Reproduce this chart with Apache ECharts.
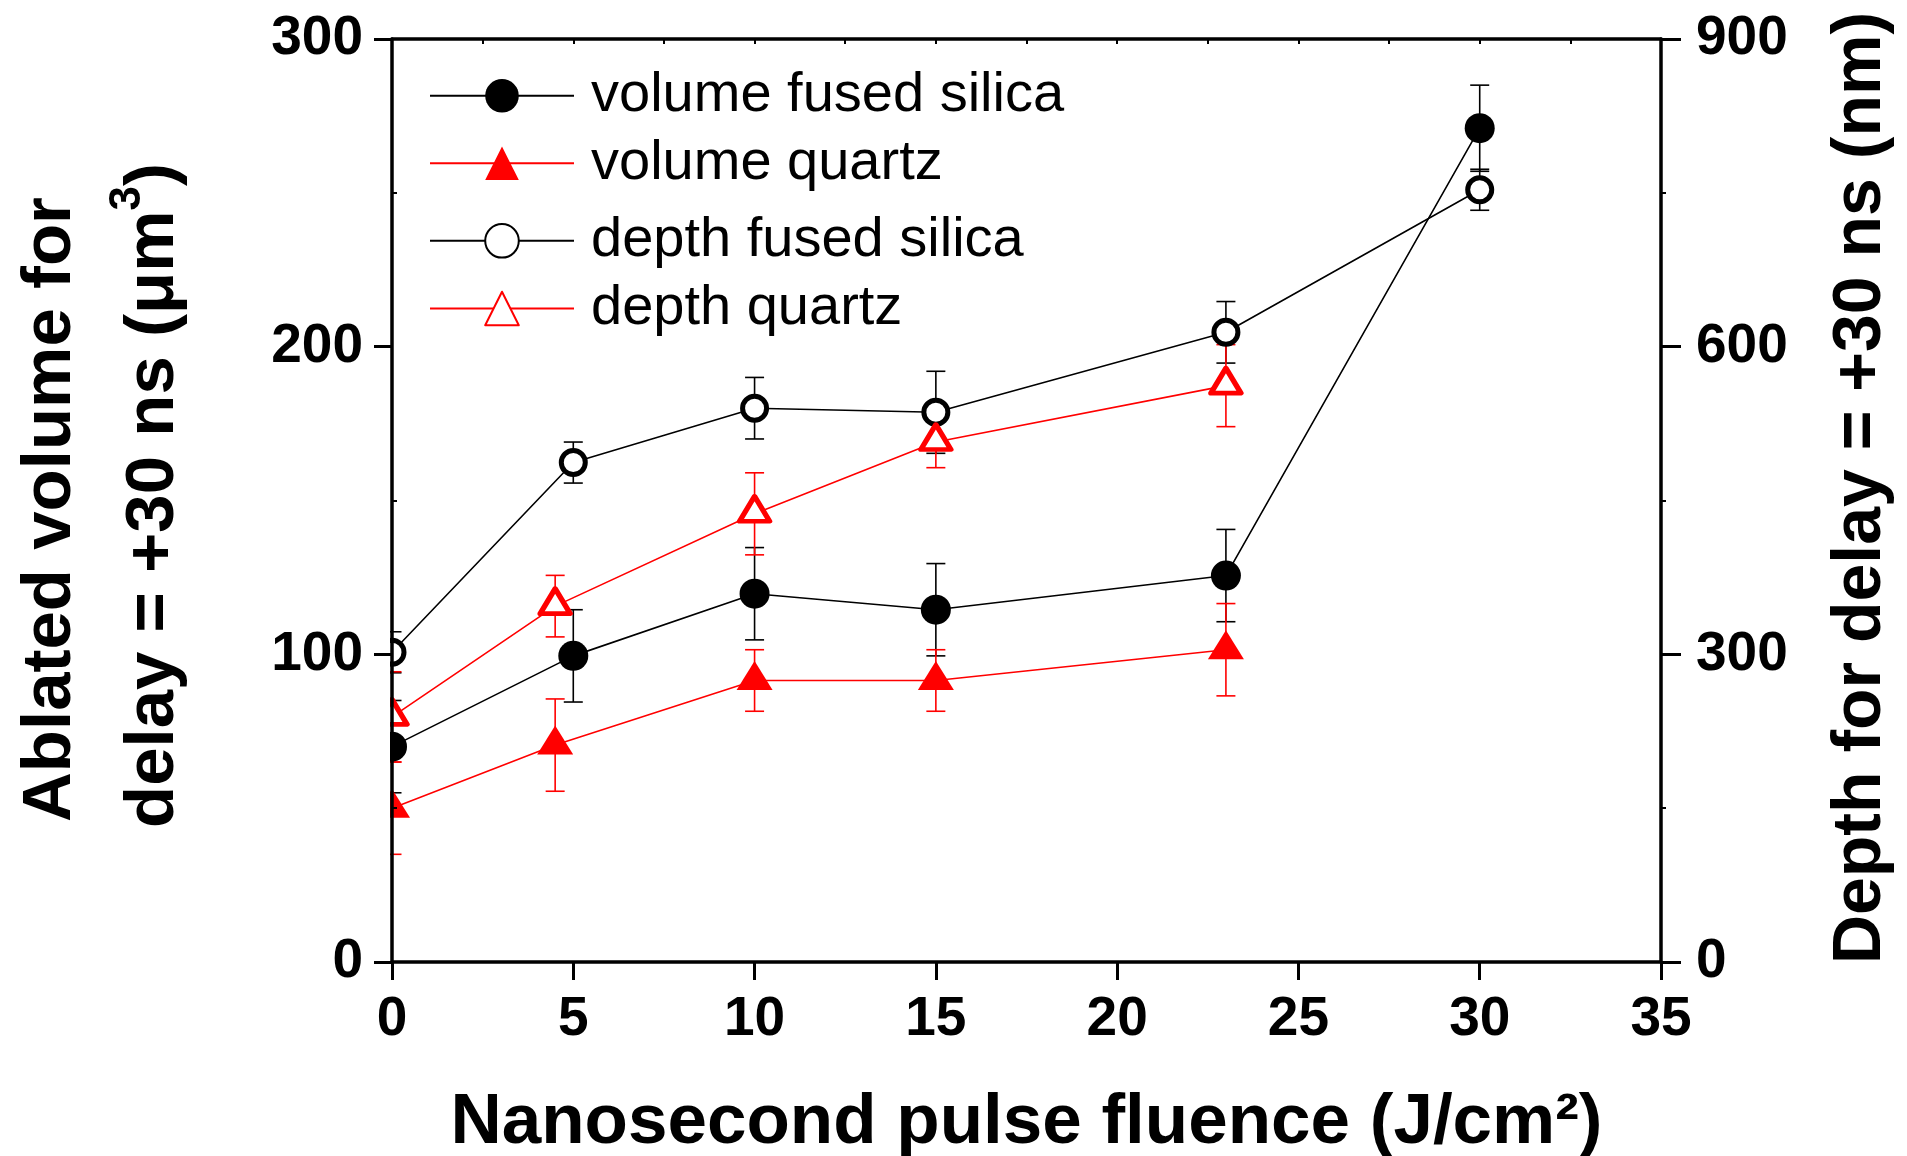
<!DOCTYPE html>
<html>
<head>
<meta charset="utf-8">
<script src="https://cdn.jsdelivr.net/npm/echarts@6/dist/echarts.min.js"></script>
<style>
html,body{margin:0;padding:0;background:#fff;}
#chart{width:1907px;height:1156px;}
</style>
</head>
<body>
<div id="chart"></div>
<script>
// ---- data ----
const xSilica = [0, 5, 10, 15, 23, 30];
const xQuartz = [0, 4.5, 10, 15, 23];
const volSilica = [70, 99.5, 119.7, 114.5, 125.6, 271];
const volSilicaErr = [15, 15, 15, 15, 15, 14];
const volQuartz = [50, 70.5, 91.5, 91.5, 101.5];
const volQuartzErr = [15, 15, 10, 10, 15];
const depthSilica = [302, 487, 540, 536, 614, 753];
const depthSilicaErr = [20, 20, 30, 40, 30, 20];
const depthQuartz = [239, 347, 437, 507, 562];
const depthQuartzErr = [44, 30, 40, 25, 40];

const seriesNames = ['volume fused silica', 'volume quartz', 'depth fused silica', 'depth quartz'];
const xRange = [0, 35], xStep = 5;
const volRange = [0, 300], volStep = 100;
const depthRange = [0, 900], depthStep = 300;
const xTitle = 'Nanosecond pulse fluence (J/cm²)';
const leftTitle1 = 'Ablated volume for';
const leftTitle2 = 'delay = +30 ns (μm';
const rightTitle = 'Depth for delay = +30 ns (nm)';

const FONT = '"Liberation Sans", Arial, sans-serif';
const RED = '#ff0000', BLACK = '#000000';

function pts(xs, ys) { return xs.map((x, i) => [x, ys[i]]); }
function errs(xs, ys, es) { return xs.map((x, i) => [x, ys[i] - es[i], ys[i] + es[i]]); }

function errSeries(name, xs, ys, es, color, yIdx) {
  return {
    type: 'custom', name: name + ' err', yAxisIndex: yIdx, xAxisIndex: 0, z: 2,
    silent: true, clip: false,
    data: errs(xs, ys, es),
    encode: { x: 0, y: [1, 2] },
    renderItem: function (params, api) {
      const x = api.value(0), lo = api.value(1), hi = api.value(2);
      const a = api.coord([x, hi]), b = api.coord([x, lo]);
      const hw = 9.5;
      const st = { stroke: color, lineWidth: 1.6 };
      return { type: 'group', children: [
        { type: 'line', shape: { x1: a[0], y1: a[1], x2: b[0], y2: b[1] }, style: st },
        { type: 'line', shape: { x1: a[0] - hw, y1: a[1], x2: a[0] + hw, y2: a[1] }, style: st },
        { type: 'line', shape: { x1: b[0] - hw, y1: b[1], x2: b[0] + hw, y2: b[1] }, style: st }
      ]};
    }
  };
}

const chart = echarts.init(document.getElementById('chart'));

const legendTops = [67.8, 135.2, 212.8, 280.5];
const legends = seriesNames.map((n, i) => ({
  data: [n], left: 429, top: legendTops[i], orient: 'vertical', padding: 0,
  itemWidth: 144, itemHeight: 42, selectedMode: false,
  textStyle: { fontSize: 56, fontFamily: FONT, color: '#000', lineHeight: 42, padding: [0, 0, 0, 12] }
}));

const axisLabel = { fontSize: 55, fontWeight: 'bold', fontFamily: FONT, color: '#000' };

const option = {
  animation: false,
  backgroundColor: '#fff',
  grid: { left: 392, right: 246, top: 39, bottom: 194, containLabel: false, outerBoundsMode: 'none' },
  legend: legends,
  xAxis: [
    { type: 'value', position: 'bottom', min: xRange[0], max: xRange[1], interval: xStep, z: 10,
      axisLine: { onZero: false, lineStyle: { color: BLACK, width: 3.5 } },
      axisTick: { inside: false, length: 18, lineStyle: { color: BLACK, width: 3 } },
      axisLabel: Object.assign({ margin: 30 }, axisLabel),
      splitLine: { show: false },
      name: xTitle, nameLocation: 'middle', nameGap: 126,
      nameTextStyle: { fontSize: 71, fontWeight: 'bold', fontFamily: FONT, color: '#000' } },
    { type: 'value', position: 'top', min: xRange[0], max: xRange[1], interval: xStep / 2, z: 10,
      axisLine: { onZero: false, lineStyle: { color: BLACK, width: 3.5 } },
      axisTick: { inside: true, length: 5, lineStyle: { color: BLACK, width: 2 } },
      axisLabel: { show: false }, splitLine: { show: false } }
  ],
  yAxis: [
    { type: 'value', position: 'left', min: volRange[0], max: volRange[1], interval: volStep, z: 10,
      axisLine: { show: true, onZero: false, lineStyle: { color: BLACK, width: 3.5 } },
      axisTick: { show: true, inside: false, length: 18, lineStyle: { color: BLACK, width: 3 } },
      axisLabel: Object.assign({ margin: 29 }, axisLabel),
      splitLine: { show: false } },
    { type: 'value', position: 'right', min: depthRange[0], max: depthRange[1], interval: depthStep, z: 10,
      axisLine: { show: true, onZero: false, lineStyle: { color: BLACK, width: 3.5 } },
      axisTick: { show: true, inside: false, length: 20, lineStyle: { color: BLACK, width: 3 } },
      minorTick: { show: true, splitNumber: 2, length: 5, lineStyle: { color: BLACK, width: 2 } },
      axisLabel: Object.assign({ margin: 35 }, axisLabel),
      splitLine: { show: false } },
    { type: 'value', position: 'left', min: volRange[0], max: volRange[1], interval: volStep, z: 10,
      axisLine: { show: false, onZero: false },
      axisTick: { show: false, inside: true },
      minorTick: { show: true, splitNumber: 2, length: 5, lineStyle: { color: BLACK, width: 2 } },
      axisLabel: { show: false }, splitLine: { show: false } }
  ],
  series: [
    errSeries(seriesNames[0], xSilica, volSilica, volSilicaErr, BLACK, 0),
    errSeries(seriesNames[1], xQuartz, volQuartz, volQuartzErr, RED, 0),
    errSeries(seriesNames[2], xSilica, depthSilica, depthSilicaErr, BLACK, 1),
    errSeries(seriesNames[3], xQuartz, depthQuartz, depthQuartzErr, RED, 1),
    { type: 'line', name: seriesNames[0], yAxisIndex: 0, data: pts(xSilica, volSilica), z: 3,
      symbol: 'circle', symbolSize: 30, color: BLACK,
      lineStyle: { color: BLACK, width: 1.6 }, itemStyle: { color: BLACK } },
    { type: 'line', name: seriesNames[1], yAxisIndex: 0, data: pts(xQuartz, volQuartz), z: 3,
      symbol: 'triangle', symbolSize: [36, 29], symbolOffset: [0, -5], color: RED,
      lineStyle: { color: RED, width: 1.6 }, itemStyle: { color: RED } },
    { type: 'line', name: seriesNames[2], yAxisIndex: 1, data: pts(xSilica, depthSilica), z: 3,
      symbol: 'circle', symbolSize: 24, color: BLACK,
      lineStyle: { color: BLACK, width: 1.6 },
      itemStyle: { color: '#fff', borderColor: BLACK, borderWidth: 5 } },
    { type: 'line', name: seriesNames[3], yAxisIndex: 1, data: pts(xQuartz, depthQuartz), z: 3,
      symbol: 'triangle', symbolSize: [30, 25], symbolOffset: [0, -5], color: RED,
      lineStyle: { color: RED, width: 1.6 },
      itemStyle: { color: '#fff', borderColor: RED, borderWidth: 5, borderJoin: 'round' } }
  ],
  graphic: [
    { type: 'rect', z: 5, shape: { x: 330, y: 560, width: 60, height: 330 }, style: { fill: '#fff' } },
    { type: 'text', x: 51, y: 822, rotation: Math.PI / 2, z: 10,
      style: { text: leftTitle1, fontSize: 69, fontWeight: 'bold', fontFamily: FONT, fill: '#000',
               align: 'left', verticalAlign: 'middle' } },
    { type: 'text', x: 154, y: 828, rotation: Math.PI / 2, z: 10,
      style: { text: '{a|' + leftTitle2 + '}{s|3}{a|)}', fill: '#000', align: 'left', verticalAlign: 'middle',
               rich: {
                 a: { fontSize: 69, fontWeight: 'bold', fontFamily: FONT, lineHeight: 96, fill: '#000' },
                 s: { fontSize: 44, fontWeight: 'bold', fontFamily: FONT, lineHeight: 44, verticalAlign: 'top', fill: '#000' }
               } } },
    { type: 'text', x: 1861, y: 488, rotation: Math.PI / 2, z: 10,
      style: { text: rightTitle, fontSize: 68, fontWeight: 'bold', fontFamily: FONT, fill: '#000',
               align: 'center', verticalAlign: 'middle' } }
  ]
};
chart.setOption(option);
</script>
</body>
</html>
